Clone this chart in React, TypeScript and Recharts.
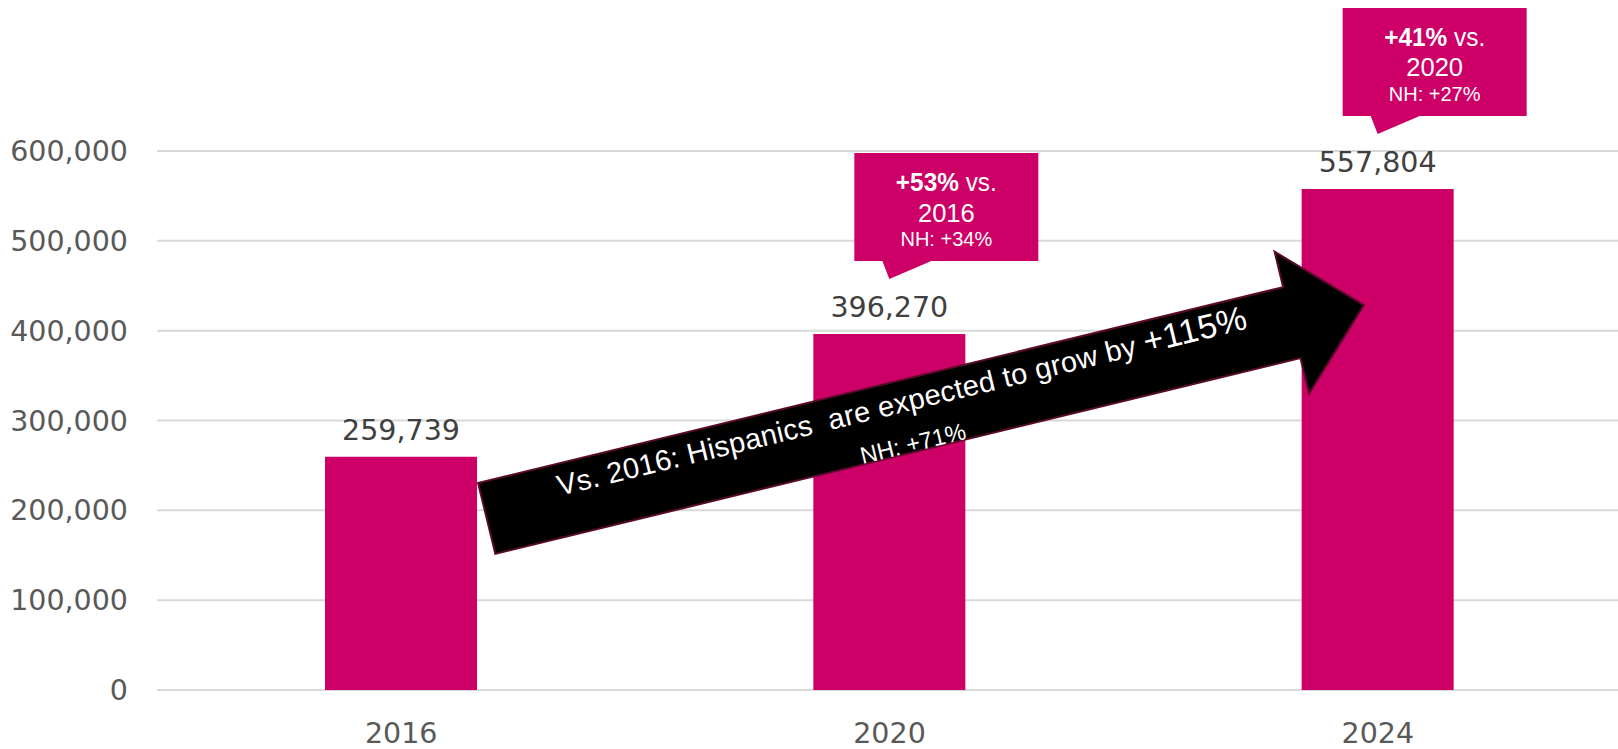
import React from 'react';
import { BarChart, Bar, XAxis, YAxis, CartesianGrid, LabelList } from 'recharts';

const years = ['2016', '2020', '2024'];
const hispanicPop = [259739, 396270, 557804];
const yTicks = [0, 100000, 200000, 300000, 400000, 500000, 600000];

// callout text per bar (first bar has none)
const calloutBold = ['', '+53%', '+41%'];
const calloutBase = ['', '2016', '2020'];
const calloutNH = ['', 'NH: +34%', 'NH: +27%'];

const arrowText = 'Vs. 2016: Hispanics  are expected to grow by ';
const arrowBold = '+115%';
const arrowNH = 'NH: +71%';
// arrow ends in data units: [category position, value]
const arrowStart = [0.1755, 191000];
const arrowEnd = [1.9715, 428400];

const data = years.map((year, i) => ({ year, value: hispanicPop[i] }));

const W = 1622;
const H = 749;
const Y_W = 157;
const X_H = 59;
const MARGIN = { top: 151, right: 0, bottom: 0, left: 0 };
const STEP = (W - Y_W - MARGIN.left - MARGIN.right) / years.length;

const PINK = '#cc0066';
const AXIS_FONT = 'DejaVu Sans';
const NOTE_FONT = 'Liberation Sans';

const Arrow = ({ toPx }: { toPx: (c: number, v: number) => [number, number] }) => {
  const [x0, y0] = toPx(arrowStart[0], arrowStart[1]);
  const [x1, y1] = toPx(arrowEnd[0], arrowEnd[1]);
  const len = Math.hypot(x1 - x0, y1 - y0);
  const ang = (Math.atan2(y1 - y0, x1 - x0) * 180) / Math.PI;
  const hw = 36.5;
  const hh = 73;
  const hl = 74;
  const pts = [
    [0, -hw], [len - hl, -hw], [len - hl, -hh], [len, 0],
    [len - hl, hh], [len - hl, hw], [0, hw],
  ].map(p => p.join(',')).join(' ');
  return (
    <g transform={`translate(${x0},${y0}) rotate(${ang})`}>
      <polygon points={pts} fill="#000" stroke="#5a0a2a" strokeWidth={2} strokeLinejoin="miter" />
      <text
        x={431}
        y={-4.7}
        textAnchor="middle"
        fill="#fff"
        fontFamily={NOTE_FONT}
        fontSize={29}
        letterSpacing={0.3}
        style={{ whiteSpace: 'pre' }}
      >
        {arrowText}
        <tspan fontSize={34}>{arrowBold}</tspan>
      </text>
      <text x={432} y={36} textAnchor="middle" fill="#fff" fontFamily={NOTE_FONT} fontSize={23.5}>
        {arrowNH}
      </text>
    </g>
  );
};

const renderLabel = (props: any) => {
  const { x, y, width, height, value } = props;
  const i = hispanicPop.indexOf(Number(value));
  const cx = Number(x) + Number(width) / 2;
  const top = Number(y);
  const base = top + Number(height);
  const pxPerUnit = Number(height) / Number(value);
  const toPx = (c: number, v: number): [number, number] => [cx + (c - i) * STEP, base - v * pxPerUnit];

  const boxL = cx - 35;
  const boxW = 184;
  const boxT = top - 181;
  const boxB = boxT + 108;
  const mid = boxL + boxW / 2;
  return (
    <g>
      <text x={cx} y={top - 17} textAnchor="middle" fill="#404040" fontFamily={AXIS_FONT} fontSize={28.5}>
        {Number(value).toLocaleString('en-US')}
      </text>
      {calloutBold[i] && (
        <g>
          <path
            d={`M${boxL},${boxT} H${boxL + boxW} V${boxB} H${cx + 42} L${cx},${top - 55} L${cx - 7},${boxB} H${boxL} Z`}
            fill={PINK}
          />
          <text
            x={mid}
            y={boxT + 38}
            textAnchor="middle"
            fill="#fff"
            fontFamily={NOTE_FONT}
            fontSize={25.5}
            textLength={101}
            lengthAdjust="spacingAndGlyphs"
          >
            <tspan fontWeight="bold">{calloutBold[i]}</tspan>
            <tspan> vs.</tspan>
          </text>
          <text x={mid} y={boxT + 68.5} textAnchor="middle" fill="#fff" fontFamily={NOTE_FONT} fontSize={25.5}>
            {calloutBase[i]}
          </text>
          <text x={mid} y={boxT + 93} textAnchor="middle" fill="#fff" fontFamily={NOTE_FONT} fontSize={20}>
            {calloutNH[i]}
          </text>
        </g>
      )}
      {i === 1 && <Arrow toPx={toPx} />}
    </g>
  );
};

export default function App() {
  return (
    <div style={{ position: 'absolute', top: 0, left: 0, width: 1618, height: H, overflow: 'hidden', background: '#fff' }}>
      <BarChart width={W} height={H} data={data} margin={MARGIN}>
        <CartesianGrid horizontal vertical={false} stroke="#d9d9d9" strokeWidth={2} />
        <XAxis
          dataKey="year"
          height={X_H}
          axisLine={false}
          tickLine={false}
          tickSize={0}
          tickMargin={33}
          tick={{ fontSize: 28.5, fill: '#595959', fontFamily: AXIS_FONT }}
        />
        <YAxis
          width={Y_W}
          domain={[0, 600000]}
          ticks={yTicks}
          axisLine={false}
          tickLine={false}
          tickSize={0}
          tickMargin={29}
          tickFormatter={(v: number) => v.toLocaleString('en-US')}
          tick={{ fontSize: 28.5, fill: '#595959', fontFamily: AXIS_FONT }}
        />
        <Bar dataKey="value" fill={PINK} barSize={152} isAnimationActive={false}>
          <LabelList dataKey="value" content={renderLabel} />
        </Bar>
      </BarChart>
    </div>
  );
}
